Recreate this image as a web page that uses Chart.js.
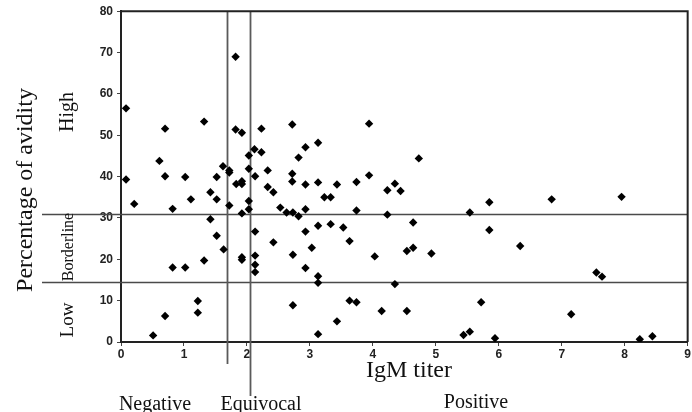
<!DOCTYPE html>
<html><head><meta charset="utf-8">
<script src="https://cdn.jsdelivr.net/npm/chart.js@4.4.0/dist/chart.umd.min.js"></script>
<style>html,body{margin:0;padding:0;background:#fff;overflow:hidden;} #wrap{width:692px;height:412px;position:relative;}</style>
</head><body><div id="wrap"><canvas id="c" width="692" height="412"></canvas></div>
<script>
// IgM titer (x) for each patient
const igmTiter = [
  0.08, 0.08, 0.21, 0.51, 0.61, 0.70, 0.70, 0.70, 0.82, 0.82,
  1.02, 1.02, 1.11, 1.22, 1.22, 1.32, 1.32, 1.42, 1.42, 1.52,
  1.52, 1.52, 1.62, 1.63, 1.72, 1.72, 1.72, 1.82, 1.82, 1.83,
  1.92, 1.92, 1.92, 1.92, 1.92, 1.92, 2.03, 2.03, 2.03, 2.03,
  2.12, 2.13, 2.13, 2.13, 2.13, 2.13, 2.23, 2.23, 2.33, 2.33,
  2.42, 2.42, 2.53, 2.63, 2.72, 2.72, 2.72, 2.73, 2.73, 2.73,
  2.82, 2.82, 2.93, 2.93, 2.93, 2.93, 2.93, 3.03, 3.13, 3.13,
  3.13, 3.13, 3.13, 3.13, 3.23, 3.33, 3.33, 3.43, 3.43, 3.53,
  3.63, 3.63, 3.74, 3.74, 3.74, 3.94, 3.94, 4.03, 4.14, 4.23,
  4.23, 4.35, 4.35, 4.44, 4.54, 4.54, 4.64, 4.64, 4.73, 4.93,
  5.44, 5.54, 5.54, 5.72, 5.85, 5.85, 5.94, 6.34, 6.84, 7.15,
  7.55, 7.64, 7.95, 8.24, 8.44
];
// Percentage of avidity (y) for each patient
const avidity = [
  56.5, 39.3, 33.4, 1.6, 43.8, 51.6, 40.1, 6.3, 32.2, 18.0,
  39.9, 18.0, 34.5, 9.9, 7.1, 53.3, 19.7, 36.2, 29.7, 39.9,
  34.5, 25.7, 42.5, 22.4, 41.5, 41.0, 33.0, 69.0, 51.4, 38.2,
  50.6, 38.9, 38.2, 31.1, 20.5, 19.9, 45.1, 41.9, 34.1, 32.1,
  46.6, 40.1, 26.7, 20.9, 18.7, 16.9, 51.6, 45.9, 41.5, 37.5,
  36.2, 24.1, 32.5, 31.3, 52.6, 40.7, 38.8, 31.3, 21.1, 8.9,
  44.6, 30.4, 47.1, 38.1, 32.1, 26.7, 17.9, 22.8, 48.2, 38.6,
  28.1, 15.9, 14.3, 1.9, 35.0, 35.0, 28.5, 38.1, 5.0, 27.7,
  24.4, 10.0, 38.7, 31.8, 9.6, 52.8, 40.3, 20.7, 7.5, 36.7,
  30.8, 38.3, 14.0, 36.5, 22.0, 7.5, 28.9, 22.8, 44.4, 21.4,
  1.7, 2.5, 31.3, 9.6, 33.8, 27.1, 0.9, 23.2, 34.5, 6.7,
  16.8, 15.8, 35.1, 0.65, 1.4
];
const xTickValues = [0, 1, 2, 3, 4, 5, 6, 7, 8, 9];
const yTickValues = [0, 10, 20, 30, 40, 50, 60, 70, 80];
const avidityCutoffs = [31, 14.5];      // High/Borderline, Borderline/Low
const titerCutoffs = [1.68, 2.05];      // Negative/Equivocal, Equivocal/Positive
const avidityZones = ['High', 'Borderline', 'Low'];
const titerZones = ['Negative', 'Equivocal', 'Positive'];
const xTitle = 'IgM titer';
const yTitle = 'Percentage of avidity';

const points = igmTiter.map((x, i) => ({ x: x, y: avidity[i] }));
const SERIF = '"Liberation Serif", "Times New Roman", serif';
const SANS = '"Liberation Sans", Arial, sans-serif';

const overlay = {
  id: 'overlay',
  beforeDatasetsDraw(chart) {
    const { ctx, chartArea: a, scales: { x, y } } = chart;
    ctx.save();
    ctx.strokeStyle = '#4a4a4a';
    ctx.lineWidth = 1.6;
    avidityCutoffs.forEach(v => {
      const py = Math.round(y.getPixelForValue(v)) + 0.5;
      ctx.beginPath(); ctx.moveTo(42, py); ctx.lineTo(a.right, py); ctx.stroke();
    });
    ctx.strokeStyle = '#5a5a5a';
    ctx.lineWidth = 1.8;
    const ends = [364, 396];
    titerCutoffs.forEach((v, i) => {
      const px = Math.round(x.getPixelForValue(v)) + 0.5;
      ctx.beginPath(); ctx.moveTo(px, a.top); ctx.lineTo(px, ends[i]); ctx.stroke();
    });
    ctx.restore();
  },
  afterDraw(chart) {
    const { ctx, chartArea: a } = chart;
    ctx.save();
    ctx.strokeStyle = '#222';
    ctx.lineWidth = 2;
    ctx.beginPath();
    ctx.moveTo(a.left, a.top); ctx.lineTo(a.right, a.top); ctx.lineTo(a.right, a.bottom);
    ctx.stroke();
    ctx.fillStyle = '#111';
    ctx.font = '24px ' + SERIF;
    ctx.textAlign = 'center';
    ctx.textBaseline = 'alphabetic';
    ctx.fillText(xTitle, 409, 377);
    ctx.font = '20px ' + SERIF;
    ctx.fillText(titerZones[0], 155, 410);
    ctx.fillText(titerZones[1], 261, 410);
    ctx.fillText(titerZones[2], 476, 408);
    ctx.save();
    ctx.translate(32, 190);
    ctx.rotate(-Math.PI / 2);
    ctx.font = '24px ' + SERIF;
    ctx.fillText(yTitle, 0, 0);
    ctx.restore();
    const zoneY = [112, 247, 320];
    const zoneSize = [20, 16, 19];
    avidityZones.forEach((t, i) => {
      ctx.save();
      ctx.translate(73, zoneY[i]);
      ctx.rotate(-Math.PI / 2);
      ctx.font = zoneSize[i] + 'px ' + SERIF;
      ctx.fillText(t, 0, 0);
      ctx.restore();
    });
    ctx.restore();
  }
};

new Chart(document.getElementById('c'), {
  type: 'scatter',
  data: {
    datasets: [{
      data: points,
      pointStyle: 'rectRot',
      pointRadius: 4.2,
      pointHoverRadius: 4.2,
      backgroundColor: '#000',
      borderColor: '#000',
      borderWidth: 0
    }]
  },
  options: {
    responsive: false,
    devicePixelRatio: 1,
    animation: false,
    layout: { padding: { top: 10, right: 4, left: 0, bottom: 0 } },
    plugins: { legend: { display: false }, tooltip: { enabled: false } },
    scales: {
      x: {
        type: 'linear', min: 0, max: 9,
        afterBuildTicks: s => { s.ticks = xTickValues.map(v => ({ value: v })); },
        afterFit: s => { s.height = 70; },
        ticks: { font: { family: SANS, size: 12, weight: 'bold' }, color: '#222', padding: 1, maxRotation: 0 },
        grid: { drawOnChartArea: false, drawTicks: true, tickLength: 4, color: '#444' },
        border: { color: '#222', width: 2 }
      },
      y: {
        type: 'linear', min: 0, max: 80,
        afterBuildTicks: s => { s.ticks = yTickValues.map(v => ({ value: v })); },
        afterFit: s => { s.width = 121; },
        ticks: { font: { family: SANS, size: 12, weight: 'bold' }, color: '#222', padding: 4 },
        grid: { drawOnChartArea: false, drawTicks: true, tickLength: 4, color: '#444' },
        border: { color: '#222', width: 2 }
      }
    }
  },
  plugins: [overlay]
});
</script>
</body></html>
